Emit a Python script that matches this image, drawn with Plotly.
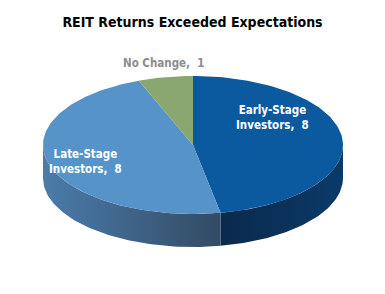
import numpy as np
import plotly.graph_objects as go

# ---- data ----
categories = ["Early-Stage Investors", "Late-Stage Investors", "No Change"]
label_text = ["Early-Stage<br>Investors,  8", "Late-Stage<br>Investors,  8", "No Change,  1"]
values = [8, 8, 1]
title = "REIT Returns Exceeded Expectations"

# ---- style ----
top_colors = ["#0b5aa0", "#5693c8", "#8aa76f"]
side_grad = [["#0a2a4c", "#0b3a68"], ["#4b7cab", "#334b64"], ["#6f8a58", "#6f8a58"]]
label_colors = ["white", "white", "#8c8c8c"]
label_pos = [(272, 117), (85, 161), (163, 63)]
cx, cy, rx, ry, depth = 193, 145, 150, 69, 33
FONT = "DejaVu Sans Condensed, Liberation Sans Narrow, sans-serif"

total = sum(values)
bounds = np.cumsum([0] + values) / total * 360.0


def ell(theta_deg, dy=0.0):
    t = np.radians(theta_deg)
    return cx + rx * np.sin(t), cy - ry * np.cos(t) + dy


fig = go.Figure()

# side walls (only the front half, 90..270 degrees)
for i, v in enumerate(values):
    a1, a2 = max(bounds[i], 90), min(bounds[i + 1], 270)
    if a2 <= a1:
        continue
    th = np.linspace(a1, a2, 80)
    xt, yt = ell(th)
    xb, yb = ell(th[::-1], depth)
    xs = np.concatenate([xt, xb, xt[:1]])
    ys = np.concatenate([yt, yb, yt[:1]])
    c1, c2 = side_grad[i]
    fig.add_trace(go.Scatter(
        x=xs, y=ys, mode="lines", fill="toself",
        line=dict(width=0, color=c1),
        fillgradient=dict(type="horizontal", colorscale=[[0, c1], [1, c2]]),
        hoverinfo="skip", showlegend=False))

# top faces
for i, v in enumerate(values):
    th = np.linspace(bounds[i], bounds[i + 1], 120)
    xt, yt = ell(th)
    xs = np.concatenate([[cx], xt, [cx]])
    ys = np.concatenate([[cy], yt, [cy]])
    fig.add_trace(go.Scatter(
        x=xs, y=ys, mode="lines", fill="toself",
        fillcolor=top_colors[i], line=dict(width=0, color=top_colors[i]),
        name=categories[i], hoverinfo="name", showlegend=False))

for i, t in enumerate(label_text):
    fig.add_annotation(x=label_pos[i][0], y=label_pos[i][1], text="<b>" + t + "</b>",
                       showarrow=False, xanchor="center", yanchor="middle",
                       font=dict(family=FONT, size=11.5, color=label_colors[i]),
                       align="center")

fig.update_layout(
    width=385, height=294,
    margin=dict(l=0, r=0, t=0, b=0),
    paper_bgcolor="white", plot_bgcolor="white",
    title=dict(text="<b>" + title + "</b>", x=0.5, xanchor="center",
               y=1 - 22 / 294, yanchor="middle",
               font=dict(family=FONT, size=14, color="black")),
    xaxis=dict(range=[0, 385], visible=False, fixedrange=True),
    yaxis=dict(range=[294, 0], visible=False, fixedrange=True),
)

fig.write_html("out.html")
